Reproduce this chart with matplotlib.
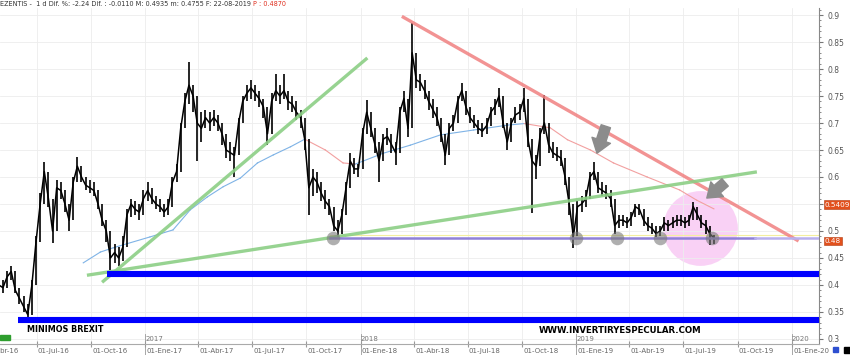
import numpy as np
import pandas as pd
import matplotlib
matplotlib.use("Agg")
import matplotlib.pyplot as plt
import matplotlib.transforms as mtransforms
from matplotlib.ticker import MultipleLocator, FuncFormatter

# weekly bars (close, high, low)
close = [0.41, 0.40, 0.395, 0.415, 0.425, 0.39, 0.375, 0.36, 0.345, 0.40,
         0.48, 0.55, 0.61, 0.56, 0.50, 0.58, 0.575, 0.55, 0.52, 0.59,
         0.62, 0.60, 0.585, 0.58, 0.575, 0.55, 0.52, 0.50, 0.45, 0.46,
         0.45, 0.47, 0.53, 0.55, 0.54, 0.535, 0.56, 0.575, 0.56, 0.55,
         0.545, 0.535, 0.545, 0.59, 0.61, 0.69, 0.74, 0.77, 0.75, 0.70,
         0.69, 0.71, 0.70, 0.71, 0.70, 0.68, 0.65, 0.645, 0.64, 0.70,
         0.74, 0.755, 0.765, 0.755, 0.745, 0.73, 0.68, 0.74, 0.76, 0.75,
         0.76, 0.74, 0.735, 0.72, 0.71, 0.67, 0.58, 0.60, 0.59, 0.57,
         0.555, 0.545, 0.51, 0.50, 0.53, 0.58, 0.63, 0.615, 0.615, 0.68,
         0.72, 0.69, 0.66, 0.63, 0.67, 0.675, 0.66, 0.645, 0.72, 0.745,
         0.69, 0.83, 0.78, 0.775, 0.76, 0.74, 0.725, 0.71, 0.68, 0.64,
         0.69, 0.70, 0.74, 0.76, 0.73, 0.71, 0.70, 0.69, 0.685, 0.695,
         0.72, 0.73, 0.75, 0.70, 0.665, 0.70, 0.715, 0.72, 0.745, 0.67,
         0.63, 0.62, 0.68, 0.70, 0.66, 0.645, 0.64, 0.635, 0.60, 0.55,
         0.49, 0.545, 0.55, 0.56, 0.60, 0.61, 0.58, 0.575, 0.57, 0.56,
         0.51, 0.52, 0.52, 0.515, 0.525, 0.545, 0.54, 0.52, 0.51, 0.505,
         0.495, 0.50, 0.515, 0.51, 0.515, 0.52, 0.52, 0.515, 0.52, 0.545,
         0.53, 0.515, 0.51, 0.495, 0.487]
high = [0.425, 0.42, 0.41, 0.425, 0.435, 0.425, 0.395, 0.38, 0.365, 0.41,
        0.49, 0.57, 0.628, 0.61, 0.56, 0.595, 0.59, 0.575, 0.55, 0.60,
        0.637, 0.62, 0.60, 0.595, 0.59, 0.575, 0.55, 0.52, 0.50, 0.475,
        0.47, 0.49, 0.54, 0.56, 0.555, 0.55, 0.575, 0.59, 0.58, 0.565,
        0.56, 0.55, 0.56, 0.60, 0.625, 0.70, 0.755, 0.813, 0.77, 0.75,
        0.72, 0.725, 0.72, 0.725, 0.715, 0.70, 0.68, 0.665, 0.655, 0.71,
        0.75, 0.77, 0.78, 0.77, 0.76, 0.745, 0.73, 0.755, 0.79, 0.77,
        0.79, 0.76, 0.75, 0.74, 0.725, 0.71, 0.67, 0.615, 0.61, 0.59,
        0.575, 0.56, 0.545, 0.52, 0.54, 0.59, 0.645, 0.635, 0.625, 0.69,
        0.742, 0.72, 0.69, 0.665, 0.68, 0.69, 0.68, 0.665, 0.73, 0.76,
        0.745, 0.885, 0.83, 0.79, 0.78, 0.76, 0.745, 0.73, 0.71, 0.68,
        0.70, 0.715, 0.75, 0.774, 0.76, 0.73, 0.715, 0.705, 0.70, 0.71,
        0.73, 0.745, 0.765, 0.75, 0.70, 0.71, 0.73, 0.735, 0.765, 0.745,
        0.67, 0.64, 0.69, 0.752, 0.70, 0.665, 0.655, 0.65, 0.635, 0.60,
        0.55, 0.555, 0.565, 0.575, 0.61, 0.628, 0.61, 0.59, 0.585, 0.575,
        0.56, 0.53, 0.53, 0.525, 0.535, 0.55, 0.55, 0.54, 0.525, 0.515,
        0.51, 0.51, 0.525, 0.52, 0.525, 0.53, 0.53, 0.525, 0.53, 0.554,
        0.545, 0.53, 0.52, 0.51, 0.4935]
low = [0.40, 0.39, 0.385, 0.395, 0.41, 0.385, 0.365, 0.35, 0.335, 0.345,
       0.40, 0.48, 0.55, 0.545, 0.478, 0.50, 0.56, 0.535, 0.50, 0.52,
       0.59, 0.59, 0.575, 0.57, 0.565, 0.54, 0.51, 0.48, 0.428, 0.44,
       0.435, 0.445, 0.47, 0.525, 0.53, 0.52, 0.53, 0.555, 0.55, 0.54,
       0.535, 0.525, 0.53, 0.545, 0.59, 0.61, 0.69, 0.735, 0.72, 0.63,
       0.665, 0.69, 0.685, 0.695, 0.685, 0.66, 0.635, 0.63, 0.60, 0.64,
       0.70, 0.74, 0.745, 0.74, 0.73, 0.71, 0.66, 0.68, 0.74, 0.735,
       0.745, 0.725, 0.72, 0.705, 0.69, 0.65, 0.53, 0.565, 0.57, 0.555,
       0.54, 0.53, 0.50, 0.489, 0.495, 0.53, 0.58, 0.605, 0.60, 0.615,
       0.68, 0.675, 0.645, 0.59, 0.63, 0.66, 0.645, 0.622, 0.645, 0.72,
       0.675, 0.69, 0.765, 0.76, 0.745, 0.725, 0.71, 0.695, 0.665, 0.622,
       0.64, 0.685, 0.70, 0.74, 0.715, 0.70, 0.69, 0.68, 0.675, 0.68,
       0.695, 0.715, 0.73, 0.69, 0.65, 0.665, 0.70, 0.705, 0.72, 0.655,
       0.533, 0.597, 0.62, 0.68, 0.645, 0.635, 0.63, 0.62, 0.585, 0.53,
       0.468, 0.49, 0.535, 0.545, 0.56, 0.595, 0.57, 0.565, 0.56, 0.545,
       0.494, 0.505, 0.51, 0.505, 0.51, 0.525, 0.53, 0.51, 0.50, 0.495,
       0.488, 0.49, 0.50, 0.50, 0.505, 0.51, 0.51, 0.505, 0.51, 0.52,
       0.52, 0.505, 0.495, 0.474, 0.4755]
dates = pd.date_range("2016-04-21", periods=len(close), freq="7D")

# moving average, blue while price above it, red while below
ma_dates = ["2016-09-18", "2016-10-17", "2016-11-08", "2017-01-09", "2017-02-17",
            "2017-03-18", "2017-04-16", "2017-05-13", "2017-06-11", "2017-07-10",
            "2017-08-06", "2017-09-04", "2017-09-28", "2017-11-02", "2017-12-02",
            "2017-12-23", "2018-02-08", "2018-03-26", "2018-05-16", "2018-07-11",
            "2018-09-06", "2018-10-05", "2018-11-18", "2018-12-17", "2019-01-25",
            "2019-03-05", "2019-05-01", "2019-06-25", "2019-07-24", "2019-08-22"]
ma_vals = [0.441, 0.461, 0.469, 0.489, 0.502, 0.539, 0.563, 0.582, 0.598, 0.626,
           0.641, 0.656, 0.670, 0.650, 0.626, 0.624, 0.644, 0.659, 0.678, 0.687,
           0.696, 0.699, 0.691, 0.669, 0.650, 0.626, 0.600, 0.576, 0.557, 0.541]
ma_side = "bbbbbbbbbbbbrrrbbbbbbrrrrrrrr"

# drawn lines (date, value)
red_trend = (["2018-03-14", "2020-01-10"], [0.896, 0.483])
green_long = (["2016-09-27", "2019-10-31"], [0.4185, 0.609])
green_short = (["2016-10-22", "2018-01-10"], [0.407, 0.8185])
support = 0.487
brexit_low = 0.3357
oct16_low = 0.4204
touches = ["2017-11-15", "2018-12-31", "2019-03-11", "2019-05-23", "2019-08-19"]

months = {1: "Ene", 4: "Abr", 7: "Jul", 10: "Oct"}
x0, x1 = pd.Timestamp("2016-04-30"), pd.Timestamp("2020-02-16")

fig = plt.figure(figsize=(8.5, 3.55), dpi=100)
ax = fig.add_axes([0, 11 / 355, 819 / 850, 336 / 355])
tr = mtransforms.blended_transform_factory(ax.transData, ax.transAxes)
tr_y = mtransforms.blended_transform_factory(ax.transAxes, ax.transData)

# price
ax.vlines(dates, low, high, color="k", lw=1.2, zorder=3)
ax.plot(dates, close, color="k", lw=1.1, zorder=3)

# moving average
md = pd.to_datetime(ma_dates)
for i, s in enumerate(ma_side):
    c = "#7fb3e6" if s == "b" else "#f2a0a0"
    ax.plot(md[i:i + 2], ma_vals[i:i + 2], color=c, lw=0.8, zorder=2)

# trend lines
ax.plot(pd.to_datetime(red_trend[0]), red_trend[1], color="#f08080", lw=2.4, alpha=0.85, zorder=4)
ax.plot(pd.to_datetime(green_long[0]), green_long[1], color="#8ccf85", lw=2.4, alpha=0.9, zorder=4)
ax.plot(pd.to_datetime(green_short[0]), green_short[1], color="#8ccf85", lw=2.4, alpha=0.9, zorder=4)
ax.plot(pd.to_datetime(["2017-11-10", x1]), [0.4935, 0.4935], color="#f3eea0", lw=0.8, zorder=2)
ax.plot(pd.to_datetime(["2017-11-10", "2019-10-31"]), [support, support], color="#8f80d8", lw=1.8, zorder=4)
ax.plot(pd.to_datetime(["2019-10-31", x1]), [support, support], color="#b8b0ee", lw=1.8, zorder=4)
ax.plot(pd.to_datetime(["2016-05-31", x1]), [brexit_low, brexit_low], color="#0000ff", lw=4.4, solid_capstyle="butt", zorder=5)
ax.plot(pd.to_datetime(["2016-10-29", x1]), [oct16_low, oct16_low], color="#0000ff", lw=4.4, solid_capstyle="butt", zorder=5)

# marks
ax.scatter(pd.to_datetime(["2019-07-30"]), [0.5056], s=2900, color="#f5b3ef", alpha=0.6, lw=0, zorder=1)
ax.scatter(pd.to_datetime(touches), [support] * len(touches), s=95, color="#7a7a7a", alpha=0.6, lw=0, zorder=6)
arrow = dict(arrowstyle="simple,head_length=0.7,head_width=1.0,tail_width=0.5",
             color="#8c8c8c", mutation_scale=14, shrinkA=0, shrinkB=0)
ax.annotate("", xy=(pd.Timestamp("2019-02-05"), 0.644), xytext=(pd.Timestamp("2019-02-20"), 0.694), arrowprops=arrow, zorder=6)
ax.annotate("", xy=(pd.Timestamp("2019-08-10"), 0.561), xytext=(pd.Timestamp("2019-09-10"), 0.590), arrowprops=arrow, zorder=6)

# labels under the brexit bar
ax.text(pd.Timestamp("2016-06-15"), 0.3167, "MINIMOS BREXIT", fontsize=5.8, fontweight="bold", va="center")
ax.text(pd.Timestamp("2018-10-30"), 0.3150, "WWW.INVERTIRYESPECULAR.COM", fontsize=6.2, fontweight="bold", va="center")

# axes
ax.set_xlim(x0, x1)
ax.set_ylim(0.2907, 0.913)
for sp in ["top", "left"]:
    ax.spines[sp].set_visible(False)
ax.spines["right"].set_color("#888888")
ax.spines["bottom"].set_color("#aaaaaa")
ax.yaxis.tick_right()
ax.yaxis.set_major_locator(MultipleLocator(0.05))
ax.yaxis.set_minor_locator(MultipleLocator(0.01))
# 0.55 sits under the moving average box
ax.yaxis.set_major_formatter(FuncFormatter(lambda v, p: "" if abs(v - 0.55) < 1e-6 else f"{v:g}"))
ax.tick_params(axis="y", which="major", length=3, color="#777777", labelsize=5.5, labelcolor="#555555", pad=3)
ax.tick_params(axis="y", which="minor", length=1.5, color="#777777")

qs = [d for d in pd.date_range("2016-04-01", "2020-01-01", freq="QS-JAN")]
ax.set_xticks([d for d in qs if d >= x0])
ax.set_xticklabels([])
ax.tick_params(axis="x", length=4, direction="inout", color="#999999")
ax.grid(True, color="#ededed", lw=0.6, zorder=0)
for d in qs:
    ax.text(d + pd.Timedelta(days=2), -0.02, f"01-{months[d.month]}-{d.strftime('%y')}",
            transform=tr, fontsize=5, color="#666666", va="center", ha="left", clip_on=False)
    if d.month == 1:
        ax.text(d, 0.014, str(d.year), transform=tr, fontsize=5, color="#777777", va="center", ha="left")
        ax.plot([d, d], [-0.04, 0.03], transform=tr, color="#999999", lw=0.6, clip_on=False)

# value boxes on the price scale
for v, s in [(0.549, "0.5409"), (0.481, "0.48")]:
    ax.text(1.007, v, s, transform=tr_y, fontsize=5.2, color="white", va="center", ha="left",
            bbox=dict(facecolor="#e2501c", edgecolor="#b03a10", pad=0.9, lw=0.4), clip_on=False, zorder=10)

# header
fig.text(0.0, 1 - 4 / 355, "EZENTIS -  1 d Dif. %: -2.24 Dif. : -0.0110 M: 0.4935 m: 0.4755 F: 22-08-2019",
         fontsize=4.7, color="#333333", va="center", ha="left")
fig.text(253 / 850, 1 - 4 / 355, "P : 0.4870", fontsize=4.7, color="#e03020", va="center", ha="left")

# small widgets
fig.add_artist(plt.Rectangle((0, 1 - 340 / 355), 10 / 850, 5 / 355, color="#2e9e2e", transform=fig.transFigure))
fig.add_artist(plt.Rectangle((833 / 850, 3 / 355), 5 / 850, 5 / 355, color="#2d4fd0", transform=fig.transFigure))
fig.add_artist(plt.Rectangle((844 / 850, 2 / 355), 6 / 850, 6 / 355, color="black", transform=fig.transFigure))

fig.savefig("out.png", dpi=100)
